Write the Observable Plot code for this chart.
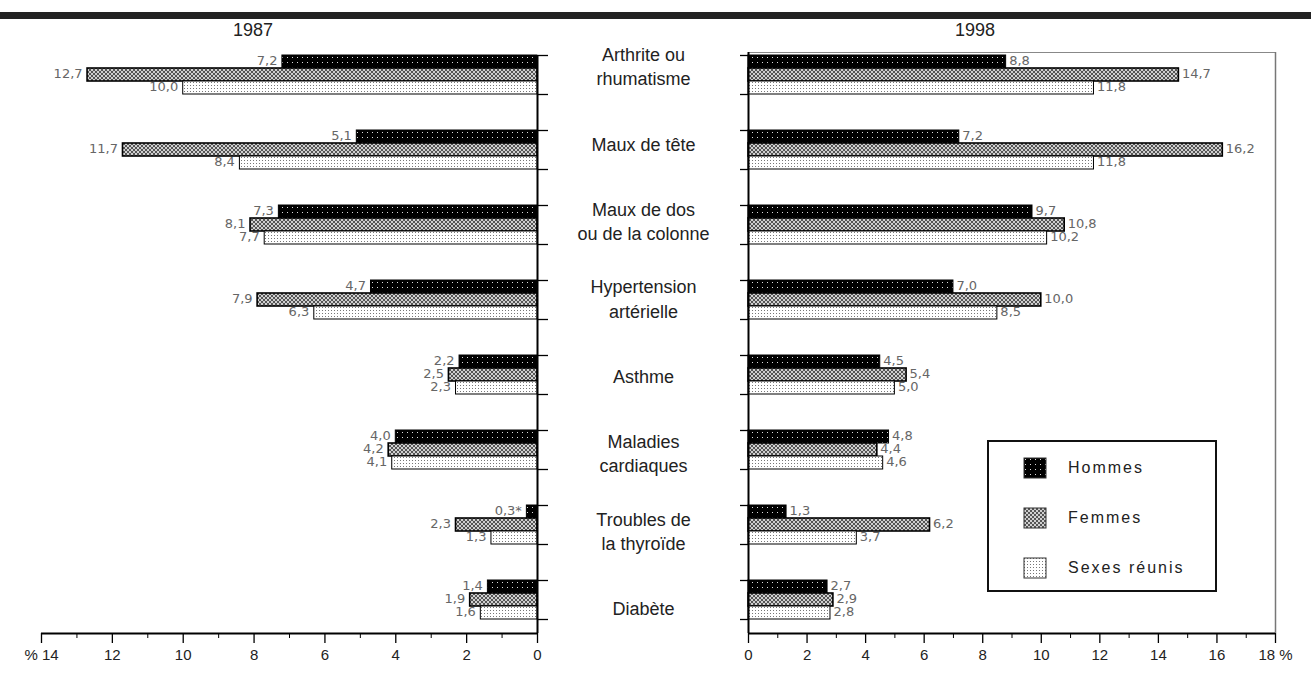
<!DOCTYPE html>
<html><head><meta charset="utf-8">
<script src="https://cdn.jsdelivr.net/npm/d3@7"></script>
<script src="https://cdn.jsdelivr.net/npm/@observablehq/plot@0.6"></script>
<style>
body{margin:0;background:#fff;font-family:"Liberation Sans",Arial,sans-serif;color:#222;}
#wrap{position:relative;width:1311px;height:684px;overflow:hidden;background:#fff;}
#rule{position:absolute;left:0;top:12px;width:1311px;height:7px;background:#222;}
.year{position:absolute;top:20px;font-size:18px;width:120px;text-align:center;color:#222;}
#left,#right{position:absolute;top:0;}
#left{left:0;} #right{left:730px;}
#legend{position:absolute;left:987px;top:440px;width:230px;height:152px;border:2px solid #111;box-sizing:border-box;background:#fff;}
.item{position:absolute;left:34px;height:22px;display:flex;align-items:center;font-size:16px;letter-spacing:2px;color:#222;}
.item svg{margin-right:21px;}
</style></head><body>
<div id="wrap">
<svg width="0" height="0" style="position:absolute">
 <defs>
  <pattern id="pH" width="5" height="5" patternUnits="userSpaceOnUse">
   <rect width="5" height="5" fill="#000"/><rect x="2" y="2" width="1" height="1" fill="#ddd"/>
  </pattern>
  <pattern id="pF" width="4" height="4" patternUnits="userSpaceOnUse">
   <rect width="4" height="4" fill="#d0d0d0"/><path d="M0,0L4,4M4,0L0,4" stroke="#555" stroke-width="1"/>
  </pattern>
  <pattern id="pS" width="3" height="3" patternUnits="userSpaceOnUse">
   <rect width="3" height="3" fill="#fff"/><rect x="1" y="1" width="1" height="1" fill="#777"/>
  </pattern>
 </defs>
</svg>
<div id="rule"></div>
<div class="year" style="left:193px">1987</div>
<div class="year" style="left:915px">1998</div>
<div id="left"></div>
<div id="right"></div>
<div id="legend"></div>
</div>
<script>
// ---- data ----
const categories = ["Arthrite ou\nrhumatisme", "Maux de tête", "Maux de dos\nou de la colonne", "Hypertension\nartérielle", "Asthme", "Maladies\ncardiaques", "Troubles de\nla thyroïde", "Diabète"];
const series = ["Hommes", "Femmes", "Sexes réunis"];
const hommes1987 = [7.2, 5.1, 7.3, 4.7, 2.2, 4.0, 0.3, 1.4];
const femmes1987 = [12.7, 11.7, 8.1, 7.9, 2.5, 4.2, 2.3, 1.9];
const sexes1987  = [10.0, 8.4, 7.7, 6.3, 2.3, 4.1, 1.3, 1.6];
const hommes1998 = [8.8, 7.2, 9.7, 7.0, 4.5, 4.8, 1.3, 2.7];
const femmes1998 = [14.7, 16.2, 10.8, 10.0, 5.4, 4.4, 6.2, 2.9];
const sexes1998  = [11.8, 11.8, 10.2, 8.5, 5.0, 4.6, 3.7, 2.8];
const flagged1987 = {"Hommes|6": "*"}; // 0,3*
const ticksLeft = [0, 2, 4, 6, 8, 10, 12, 14];
const ticksRight = [0, 2, 4, 6, 8, 10, 12, 14, 16, 18];

// ---- styling ----
const patterns = ["url(#pH)", "url(#pF)", "url(#pS)"];
const strokeW = [1, 1.6, 1];
const step = 75;            // px per category
const barH = 13 / step;     // bar thickness in category units
const yDomain = [-3 / step, 578 / step];
const labelStart = 10 / step, labelStep = 77.4 / step;
const fmt = v => d3.format(".1f")(v).replace(".", ",");
const font = "Liberation Sans, Arial, sans-serif";
const valueFont = "DejaVu Sans, Verdana, sans-serif";

function build(vals, flags) {
  const out = [];
  categories.forEach((c, i) => series.forEach((s, j) => {
    const v = vals[j][i];
    out.push({cat: c, i, s, j, v, y1: i + j * barH, y2: i + (j + 1) * barH,
      label: fmt(v) + ((flags && flags[s + "|" + i]) || "")});
  }));
  return out;
}
const bounds = categories.flatMap((c, i) => [i, i + 3 * barH]);
const d87 = build([hommes1987, femmes1987, sexes1987], flagged1987);
const d98 = build([hommes1998, femmes1998, sexes1998]);

const left = Plot.plot({
  width: 730, height: 684, marginTop: 52, marginBottom: 51, marginLeft: 41, marginRight: 193,
  style: {fontFamily: font, background: "transparent", overflow: "visible"},
  x: {domain: [14, 0]},
  y: {domain: yDomain, reverse: true},
  color: {type: "identity"},
  marks: [
    Plot.rect(d87, {x1: 0, x2: "v", y1: "y1", y2: "y2", fill: d => patterns[d.j], stroke: "#000", strokeWidth: d => strokeW[d.j]}),
    Plot.text(d87, {x: "v", y: d => (d.y1 + d.y2) / 2, text: "label", textAnchor: "end", dx: -5, dy: -1, fill: "#666", fontSize: 13, fontFamily: valueFont}),
    Plot.text(categories, {x: 0, y: (d, i) => labelStart + i * labelStep, text: d => d, dx: 106, fontSize: 18, lineHeight: 1.35, fill: "#222"}),
    Plot.ruleX([0], {y1: 0, y2: yDomain[1], stroke: "#000", strokeWidth: 2}),
    Plot.ruleY([yDomain[1]], {x1: 14, x2: 0, stroke: "#000", strokeWidth: 2}),
    Plot.axisX({anchor: "bottom", ticks: ticksLeft, tickSize: 10, tickPadding: 6, tickFormat: d => d === 14 ? "% 14" : d, fontSize: 15, label: null, stroke: "#000", strokeWidth: 1.3, color: "#222"}),
    Plot.axisX({anchor: "bottom", ticks: d3.range(1, 14, 2), tickSize: 5, tickFormat: () => "", label: null, stroke: "#000"}),
    Plot.axisY({anchor: "right", ticks: bounds, tickSize: 10, tickFormat: () => "", label: null, stroke: "#000", strokeWidth: 1.3})
  ]
});
document.getElementById("left").append(left);

const right = Plot.plot({
  width: 581, height: 684, marginTop: 52, marginBottom: 51, marginLeft: 18, marginRight: 36,
  style: {fontFamily: font, background: "transparent", overflow: "visible"},
  x: {domain: [0, 18]},
  y: {domain: yDomain, reverse: true},
  color: {type: "identity"},
  marks: [
    Plot.ruleY([yDomain[0]], {x1: 0, x2: 18, stroke: "#888", strokeWidth: 1}),
    Plot.ruleX([18], {y1: yDomain[0], y2: yDomain[1], stroke: "#777", strokeWidth: 1.5}),
    Plot.rect(d98, {x1: 0, x2: "v", y1: "y1", y2: "y2", fill: d => patterns[d.j], stroke: "#000", strokeWidth: d => strokeW[d.j]}),
    Plot.text(d98, {x: "v", y: d => (d.y1 + d.y2) / 2, text: "label", textAnchor: "start", dx: 3, dy: -1, fill: "#666", fontSize: 13, fontFamily: valueFont}),
    Plot.ruleX([0], {y1: yDomain[0], y2: yDomain[1], stroke: "#000", strokeWidth: 2}),
    Plot.ruleY([yDomain[1]], {x1: 0, x2: 18, stroke: "#000", strokeWidth: 2}),
    Plot.axisX({anchor: "bottom", ticks: ticksRight, tickSize: 10, tickPadding: 6, tickFormat: d => d === 18 ? "18 %" : d, fontSize: 15, label: null, stroke: "#000", strokeWidth: 1.3, color: "#222"}),
    Plot.axisX({anchor: "bottom", ticks: d3.range(1, 18, 2), tickSize: 5, tickFormat: () => "", label: null, stroke: "#000"}),
    Plot.axisY({anchor: "left", ticks: bounds, tickSize: 8, tickFormat: () => "", label: null, stroke: "#000", strokeWidth: 1.3})
  ]
});
document.getElementById("right").append(right);

// ---- legend ----
const legend = document.getElementById("legend");
series.forEach((s, j) => {
  const div = document.createElement("div");
  div.className = "item";
  div.style.top = (15 + j * 50) + "px";
  div.innerHTML = `<svg width="24" height="22"><rect x="1" y="1" width="22" height="20" fill="${patterns[j]}" stroke="#333" stroke-width="1"/></svg><span>${s}</span>`;
  legend.append(div);
});
</script>
</body></html>
